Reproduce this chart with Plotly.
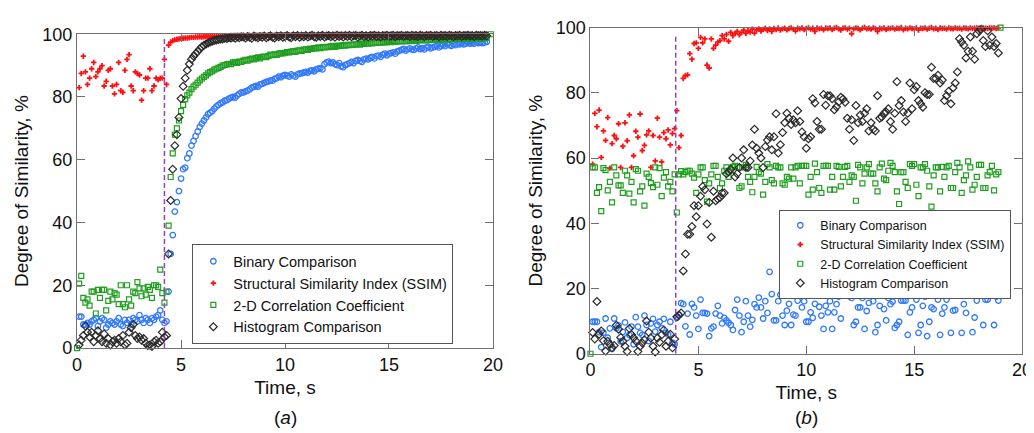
import plotly.graph_objects as go

# ---- panel (a): time base, 0.1 s frames ----
time_a = [round(0.1 * i, 1) for i in range(198)] + [19.9]
change_a = 4.2

binary_a = [None] + [
    10, 10, 7.5, 7.5, 8, 7.5, 8.5, 9, 9.5, 7,
    8.5, 9.5, 9, 6.5, 7.5, 8.5, 8, 7.5, 8.5, 9.5,
    7.5, 7, 9, 8, 9, 7.5, 9.5, 9, 8.5, 10.5,
    9, 8, 9.5, 9, 8, 9.5, 9, 10, 10.5, 12,
    9, 8,
    8.5, 18, 30, 36, 43.5, 46.5, 50,
    54, 57, 57.5, 60.5, 62, 64.5, 66, 67.5, 69, 70.5,
    71.5, 72.5, 73.5, 74.5, 75, 75.5, 76.3, 77, 77.5, 78,
    78.3, 78.8, 79, 79.5, 79.8, 80, 79.8, 80.5, 81, 81.5,
    81.5, 81.8, 82, 82.4, 83, 83.2, 83.5, 83.3, 84, 84.2,
    84.5, 84.8, 85, 85.3, 85.2, 85.8, 86, 86.5, 86.3, 86.8,
    87, 86.8, 86.5, 87.2, 86.8, 86.5, 87.2, 87.5, 87.5, 87.8,
    88, 87.8, 88.3, 88.5, 88.2, 88.8, 89, 89.2, 88.8, 90.5,
    91, 91.3, 90.8, 91, 90.5, 90.2, 90.8, 89.8, 89.5, 90.2,
    90.5, 90.8, 91.2, 90.8, 91.5, 91.8, 91.5, 91.2, 92, 92.2,
    92, 92.5, 92.8, 92.3, 93, 93.2, 92.8, 93.5, 93.8, 93.3,
    93.8, 94, 94.2, 93.8, 94.5, 94.8, 95, 95.3, 94.8, 95.2,
    95.5, 95.2, 95, 95.5, 95.8, 95.3, 95.6, 95.2, 95.8, 96,
    95.5, 95.8, 96, 96.3, 95.8, 96.2, 96.5, 96.2, 96.8, 96.5,
    96.3, 96.8, 96.5, 97, 96.8, 97.2, 96.8, 97, 97.3, 97,
    97.2, 97, 97.4, 97.2, 97.5, 97.2, 97.4, 97.6,
] + [None]

ssim_a = [None] + [
    83, 87.5, 93, 88, 84, 86, 89, 91, 86.5, 88,
    89, 90, 83.5, 85, 88.5, 89, 83.5, 81, 84, 91,
    82, 81.5, 88.5, 92, 93.5, 83.5, 82, 88, 87.5, 87,
    79, 82, 86, 86, 89, 82, 83.5, 86, 85.5, 86,
    86, 92,
    84, 96.5, 97.5, 97.9, 98.2, 98.4, 98.5,
    98.6, 98.7, 98.8, 98.8, 98.9, 99, 99, 99.1, 99.1, 99.2,
    99.1, 99.2, 99.3, 99.2, 99.3, 99.4, 99.3, 99.4, 99.4, 99.5,
    99.4, 99.5, 99.5, 99.4, 99.6, 99.5, 99.6, 99.5, 99.6, 99.6,
    99.6, 99.5, 99.7, 99.6, 99.5, 99.7, 99.6, 99.7, 99.6, 99.7,
    99.7, 99.6, 99.7, 99.8, 99.6, 99.7, 99.8, 99.7, 99.6, 99.8,
    99.7, 99.8, 99.7, 99.8, 99.7, 99.8, 99.8, 99.7, 99.8, 99.8,
    99.8, 99.7, 99.8, 99.8, 99.9, 99.8, 99.7, 99.8, 99.9, 99.8,
    99.8, 99.9, 99.8, 99.8, 99.9, 99.8, 99.9, 99.8, 99.9, 99.8,
    99.9, 99.8, 99.9, 99.8, 99.9, 99.9, 99.8, 99.9, 99.8, 99.9,
    99.8, 99.9, 99.9, 99.8, 99.9, 99.9, 99.8, 99.9, 99.9, 99.8,
    99.9, 99.9, 99.8, 99.9, 99.9, 99.9, 99.8, 99.9, 99.9, 99.9,
    99.9, 99.8, 99.9, 99.9, 99.9, 99.9, 99.8, 99.9, 99.9, 99.9,
    99.9, 99.9, 99.9, 99.8, 99.9, 99.9, 99.9, 99.9, 99.9, 99.8,
    99.9, 99.9, 99.9, 99.9, 99.8, 99.9, 99.9, 99.9, 99.9, 99.9,
    99.9, 99.9, 99.9, 99.9, 99.9, 99.9, 99.9, 99.9,
] + [None]

corr_a = [0] + [
    20.5, 23, 16, 14.5, 15.5, 13.5, 18, 18, 11, 18.5,
    16, 18.5, 18.5, 12, 15, 18, 15.5, 17.5, 17, 14,
    20, 14, 13, 20, 15.5, 13.5, 18, 17.5, 21, 19,
    16.5, 19, 17, 19.5, 18.5, 16, 20, 20, 19.5, 25,
    17.5, 14.5,
    18, 39, 54.5, 62, 68, 70, 72.5,
    75.5, 77.5, 79.3, 80.5, 81.4, 82.5, 83.3, 83.9, 84.6, 85.3,
    85.9, 86.4, 86.9, 87.5, 87.9, 88.2, 88.7, 89, 89.3, 89.6,
    90, 90.2, 90.4, 90.6, 90.5, 91, 91.1, 90.9, 91.3, 91.2,
    91.6, 91.8, 91.6, 92, 92.2, 92, 92.4, 92.6, 92.3, 92.8,
    92.9, 92.7, 93.1, 93.5, 93.3, 93.6, 93.4, 93.8, 94, 93.9,
    94.1, 94.3, 94.2, 94.5, 94.6, 94.4, 94.8, 94.9, 94.7, 95.1,
    95.2, 95, 95.4, 95.3, 95.6, 95.5, 95.8, 95.6, 95.9, 95.8,
    96, 95.9, 96.1, 96.3, 96, 96.2, 96.4, 96.3, 96.5, 96.4,
    96.6, 96.5, 96.7, 96.6, 96.8, 96.9, 96.7, 97, 96.9, 97.1,
    97, 97.2, 97.1, 97.3, 97.2, 97.4, 97.3, 97.5, 97.4, 97.5,
    97.6, 97.5, 97.7, 97.6, 97.8, 97.7, 97.8, 97.9, 97.7, 97.9,
    98, 97.8, 98, 97.9, 98.1, 98, 98.2, 98.1, 98, 98.2,
    98.3, 98.1, 98.3, 98.2, 98.4, 98.3, 98.2, 98.4, 98.5, 98.3,
    98.5, 98.4, 98.6, 98.5, 98.4, 98.6, 98.7, 98.5, 98.6, 98.7,
    98.6, 98.7, 98.8, 98.6, 98.7, 98.8, 98.7, 98.9,
] + [100]

hist_a = [None] + [
    1, 2.5, 4, 7, 5, 3.5, 5, 2, 4, 5.5,
    3, 2, 4.5, 1.5, 3, 1, 2, 2.5, 1.5, 3,
    2, 4, 1, 1.5, 5, 6.5, 7.5, 4, 3, 3.5,
    2.5, 3, 1.5, 0.8, 1, 0.5, 2, 2.5, 1.5, 2,
    5, 3.5,
    4, 30, 47, 57, 64.5, 68, 73.5,
    79.5, 83.4, 86, 88.5, 90.5, 92, 93, 93.8, 94.5, 95.3,
    96, 96.5, 96.9, 97.2, 97.5, 97.8, 98, 98.2, 98.3, 98.5,
    98.5, 98.7, 98.6, 98.9, 98.8, 99, 98.7, 99.1, 98.9, 99.2,
    99.1, 98.8, 99.3, 99, 98.7, 99.4, 99.1, 98.9, 99.3, 99,
    99.4, 98.9, 99.2, 99.5, 99, 98.8, 99.4, 99.2, 99.5, 99,
    99.3, 99.6, 99.1, 98.9, 99.5, 99.2, 99.6, 99, 99.4, 99.2,
    99.6, 99.1, 99.4, 99.7, 99.2, 99, 99.5, 99.3, 99.7, 99.1,
    99.4, 99.6, 99.2, 99.5, 99, 99.7, 99.3, 99.5, 99.1, 99.6,
    99.3, 99.7, 99.2, 99.5, 99.6, 99.1, 99.4, 99.7, 99.3, 99.5,
    99.2, 99.6, 99.4, 99.7, 99.3, 99.5, 99.1, 99.6, 99.4, 99.7,
    99.3, 99.5, 99.7, 99.2, 99.6, 99.4, 99.7, 99.3, 99.5, 99.6,
    99.2, 99.7, 99.4, 99.6, 99.3, 99.7, 99.5, 99.2, 99.6, 99.4,
    99.7, 99.3, 99.5, 99.6, 99.2, 99.7, 99.4, 99.6, 99.3, 99.7,
    99.5, 99.2, 99.6, 99.4, 99.7, 99.3, 99.6, 99.5, 99.7, 99.4,
    99.6, 99.3, 99.7, 99.5, 99.6, 99.4, 99.7, 99.5,
] + [None]

# ---- panel (b) ----
time_b = [round(0.1 * i, 1) for i in range(190)] + [19.0]
change_b = 3.95

binary_b = [None] + [
    9.8, 9.8, 9.8, 6.6, 2, 6.4, 10.8, 4.9, 7.8, 1.5,
    10.8, 7.8, 8.7, 3.8, 6.7, 9.6, 4.9, 5.8, 8.3, 2.9,
    11.2, 8.3, 6.4, 5.8, 11.7, 8.8, 3.9, 9.3, 10.7, 6.8,
    8.8, 9.8, 7.8, 10.7, 6.4, 5.9, 9.8, 3.4, 2.9,
    11, 12, 15.5, 15.2, 8.4, 12.3, 5.9, 15.3, 14.2, 11.7,
    7.6, 16.6, 12.5, 12.5, 12.3, 5.4, 7.8, 8.3, 12.3, 14.7,
    11.7, 9.3, 11, 10.2, 9.5, 8.8, 7.3, 13.4, 16.6, 11.7,
    6.6, 9.8, 16.1, 11.7, 8.3, 10.4, 15.2, 14.2, 17.2, 14.2,
    10.8, 16.1, 12.5, 25.1, 18.3, 10.2, 10.2, 16.1, 18.1, 11.7,
    8.8, 13.2, 15.3, 8.8, 12, 11.7, 16.3, 19.1, 14.2, 16.1,
    9.8, 9.8, 12.7, 11, 15.3, 18.1, 14.4, 11.7, 7.6, 14.7,
    12.7, 16.1, 7.6, 12.7, 15.2, 17.5, 10.8, 18.1, 18.6, 18.9,
    17.6, 17.1, 8.8, 9.8, 14.2, 14.2, 17.1, 7.6, 13.1, 15.6,
    19.8, 16.1, 6.6, 8.8, 14.7, 18.3, 13.7, 10.2, 17.1, 15.2,
    16, 7.9, 8.8, 9.8, 16.3, 16.3, 16.3, 5.8, 12.7, 14.2,
    18.6, 16.6, 6.4, 8.8, 14.7, 17.5, 5.4, 9.8, 14.2, 13.7,
    20.1, 16.6, 5.8, 12.3, 14.2, 16.6, 19.8, 6.4, 13.2, 13.4,
    22.5, 20.9, 6.4, 15.2, 12.5, 19.3, 21.5, 6.6, 11.1, 16.3,
    21.5, 21.8, 8.8, 16.6, 16.6, 23.2, 18, 8.8, 17.5, 16.3,
] + [None]

ssim_b = [None] + [
    58.1, 73.7, 69.6, 74.7, 60.2, 68.3, 65.4, 72.4, 56.9, 64.4,
    66.9, 65.9, 70.5, 57.1, 63.6, 70.8, 65.3, 73.2, 57.1, 60.7,
    68.2, 66.4, 73.5, 62.3, 63.9, 67.1, 68.3, 57.1, 66.9, 59.1,
    72.2, 66.4, 58.8, 67.8, 65.9, 68.6, 64, 67.5, 69,
    74.5, 63.2, 66.9, 84.4, 85.3, 85.5, 92, 90.3, 95.1, 95.3,
    93.6, 97, 95.3, 96.5, 88.5, 87.6, 96.5, 93.6, 94.6, 95.5,
    96, 97.5, 96.5, 97.9, 95.8, 98.5, 97.5, 98.2, 98.8, 97.8,
    98.5, 99.2, 98.2, 99, 98.6, 99.5, 98.3, 99.3, 99.6, 98.9,
    99.4, 99.8, 99.1, 99.6, 98.8, 99.7, 99.4, 99.9, 99.2, 99.6,
    99.8, 99.3, 99.7, 99.9, 99.5, 98.9, 99.8, 99.6, 99.9, 99.4,
    99.7, 99.9, 99.5, 99.8, 98.8, 99.9, 99.6, 99.8, 99.3, 99.9,
    99.7, 99.9, 99.4, 99.8, 100, 99.6, 99.2, 99.8, 99.9, 99.5,
    99.8, 98.1, 99.6, 99.9, 99.7, 99.3, 99.8, 100, 99.6, 99.8,
    99.5, 99.9, 99.7, 98.8, 99.8, 99.6, 99.9, 99.4, 99.8, 99.7,
    99.9, 99.5, 99.8, 99.7, 100, 99.3, 99.8, 99.6, 99.9, 99.7,
    99.6, 99.9, 99.2, 99.8, 99.7, 99.9, 99.5, 99.8, 100, 99.6,
    99.8, 99.4, 99.9, 99.7, 99.8, 99.5, 99.9, 99.7, 99.6, 99.9,
    99.7, 99.8, 99.5, 99.9, 99.8, 99.6, 99.9, 99.7, 99.8, 99.9,
    99.8, 99.6, 99.9, 99.8, 99.7, 99.9, 99.8, 99.9, 99.7, 99.9,
] + [None]

corr_b = [0] + [
    57.1, 57.1, 49.3, 51.1, 43.7, 56.9, 56.3, 50.1, 52.7, 46.4,
    57.1, 54.7, 51.6, 51.6, 49.3, 56.1, 54.7, 49.1, 52.7, 46.4,
    56.6, 56.1, 49.8, 51.3, 45.4, 55.2, 54.2, 52.3, 51.1, 57.1,
    51.8, 56.9, 48.3, 54, 55.7, 51.3, 52.7, 49.8, 55,
    43.3, 55, 56, 55, 55.7, 56.1, 56.1, 55.2, 54, 49.3,
    55, 57.1, 57.1, 53.2, 46.6, 52.2, 55, 57.6, 57.6, 54.2,
    50.8, 52.2, 56.1, 57.1, 54.2, 56.3, 57.3, 57.6, 57.1, 50.8,
    51.3, 57.1, 57.9, 54.2, 52.7, 49.5, 54.2, 57.3, 55.7, 55.2,
    48.8, 52.7, 58.1, 57.1, 53.2, 52.2, 57.6, 57.1, 57.1, 52.2,
    51.8, 54.2, 53.7, 57.1, 53.7, 57.1, 57.6, 52.2, 57.6, 57.6,
    57.6, 48.8, 54.2, 50.3, 58.3, 55.7, 50.8, 49.3, 57.6, 57.6,
    57.6, 50.3, 54.2, 50.3, 57.6, 57.3, 51.3, 54.2, 57.3, 57.6,
    52.7, 54.7, 54.2, 46.9, 57.9, 57.1, 52.2, 55.2, 57.1, 58.1,
    55.2, 55.2, 52.2, 49.8, 57.1, 58.3, 53.7, 53.2, 56.1, 58.5,
    57.6, 55.7, 49.8, 45.9, 55.7, 55.7, 52.7, 50.8, 58.1, 57.6,
    58.1, 51.8, 48.3, 57.1, 57.1, 58.1, 56.1, 51.3, 45.1, 54.7,
    57.1, 57.1, 49.8, 57.3, 54.2, 57.1, 57.6, 50.8, 50.8, 55.7,
    58.5, 57.1, 49.3, 53.2, 54.7, 59, 57.1, 50.3, 51.8, 54.2,
    57.9, 57.9, 50.8, 50.8, 54.7, 55.7, 57.6, 50.1, 55, 55.7,
] + [100]

hist_b = [None] + [
    6.5, 4.5, 16, 6, 7, 4, 0.8, 3.8, 2.8, 1.8,
    2.5, 8.7, 7.5, 5, 3.8, 2.3, 0.7, 7.7, 5.9, 4.9,
    3.9, 0.7, 2.3, 3.3, 4.3, 10, 6.6, 4.8, 2.3, 0.5,
    4.8, 3.5, 5.8, 7.3, 2.3, 3.8, 6, 1.8, 4.5,
    11.3, 11.8, 12.5, 25.4, 30.6, 36.6, 36.6, 39, 45.4, 42,
    45.4, 48.3, 51.3, 50.3, 39.8, 46.4, 35.7, 49.8, 46.9, 47.4,
    47.9, 49.3, 49.3, 55.2, 55.7, 56.6, 60, 54.2, 55.2, 57.1,
    60, 62.5, 57.1, 57.1, 59.1, 64, 68.8, 63, 61.5, 60,
    57.1, 63.5, 65.5, 66.5, 62.5, 66.5, 73.6, 61.5, 64.1, 67.8,
    70.8, 73.7, 72.2, 70.3, 71.7, 70.8, 74.5, 71.2, 68, 66.5,
    63, 65.9, 66.5, 78.2, 76.9, 71.2, 68.8, 68.8, 79.5, 76.2,
    79.1, 79.1, 78.2, 74.8, 75.7, 77.2, 78.6, 78.1, 77.1, 72.2,
    68.8, 71.7, 65.4, 76.1, 70.8, 73.2, 71.2, 73.7, 75.1, 68.3,
    70.8, 68.8, 68.3, 79.1, 72.2, 72.6, 73.7, 74.1, 75.1, 71.2,
    68.8, 73.7, 83.4, 76.1, 77.6, 74.1, 71.2, 73.7, 83, 75.1,
    80.9, 81.9, 77.6, 76.6, 75.6, 80, 79.5, 79.5, 87.8, 84.4,
    84.4, 85.4, 83, 83.9, 77.6, 79.1, 80.5, 76.6, 81.5, 83,
    86.4, 96.6, 95.6, 94.6, 90.7, 92.7, 97.1, 92.7, 90.3, 98.1,
    99, 99.5, 96, 94.2, 99, 94.6, 97.1, 94.2, 95.1, 92.2,
] + [None]

for s in (binary_a, ssim_a, corr_a, hist_a):
    assert len(s) == len(time_a), len(s)
for s in (binary_b, ssim_b, corr_b, hist_b):
    assert len(s) == len(time_b), len(s)

names = ["Binary Comparison", "Structural Similarity Index (SSIM)",
         "2-D Correlation Coefficient", "Histogram Comparison"]

FONT = "Liberation Sans, Arial, sans-serif"
styles = [
    dict(symbol="circle-open", size=5.5, color="#2f78ff", line=dict(width=1.3, color="#2f78ff")),
    dict(symbol="cross", size=4.5, color="#ff1010", line=dict(width=0)),
    dict(symbol="square-open", size=5, color="#1f9e1f", line=dict(width=1.2, color="#1f9e1f")),
    dict(symbol="diamond-open", size=6, color="#2a2a2a", line=dict(width=1.2, color="#2a2a2a")),
]

fig = go.Figure()

for ys, nm, st in zip((binary_a, ssim_a, corr_a, hist_a), names, styles):
    fig.add_trace(go.Scatter(x=time_a, y=ys, mode="markers", name=nm, marker=st,
                             xaxis="x", yaxis="y", legend="legend", cliponaxis=False))
for ys, nm, st in zip((binary_b, ssim_b, corr_b, hist_b), names, styles):
    fig.add_trace(go.Scatter(x=time_b, y=ys, mode="markers", name=nm, marker=st,
                             xaxis="x2", yaxis="y2", legend="legend2", cliponaxis=False))

# transition markers
fig.add_shape(type="line", xref="x", yref="y", x0=change_a, x1=change_a, y0=0, y1=99,
              line=dict(color="#9440c0", width=1.5, dash="5px,3px"))
fig.add_shape(type="line", xref="x2", yref="y2", x0=change_b, x1=change_b, y0=0, y1=98,
              line=dict(color="#9440c0", width=1.5, dash="5px,3px"))

axis_common = dict(range=[0, 20], tickvals=[0, 5, 10, 15, 20], showgrid=False, zeroline=False,
                   showline=True, linecolor="#707070", linewidth=1.3, mirror="ticks",
                   ticks="inside", ticklen=8, tickcolor="#707070", tickwidth=1.2,
                   tickfont=dict(size=18, color="#111", family=FONT))
yaxis_common = dict(range=[0, 100], tickvals=[0, 20, 40, 60, 80, 100], showgrid=False,
                    zeroline=False, showline=True, linecolor="#707070", linewidth=1.3,
                    mirror="ticks", ticks="inside", ticklen=8, tickcolor="#707070",
                    tickwidth=1.2, tickfont=dict(size=18, color="#111", family=FONT))

legend_common = dict(xanchor="left", yanchor="top", bgcolor="white", bordercolor="#555",
                     borderwidth=1, tracegroupgap=0, itemwidth=30)

fig.update_layout(
    width=1034, height=433,
    margin=dict(l=0, r=0, t=0, b=0),
    paper_bgcolor="white", plot_bgcolor="white",
    font=dict(family=FONT, color="#111"),
    xaxis=dict(axis_common, domain=[0.0629, 0.4710], anchor="y",
               title=dict(text="Time, s", font=dict(size=19), standoff=6)),
    yaxis=dict(yaxis_common, domain=[0.2009, 0.9607], anchor="x",
               title=dict(text="Degree of Similarity, %", font=dict(size=19), standoff=8)),
    xaxis2=dict(axis_common, domain=[0.5667, 0.9903], anchor="y2",
                title=dict(text="Time, s", font=dict(size=19), standoff=6)),
    yaxis2=dict(yaxis_common, domain=[0.1871, 0.9769], anchor="x2",
                title=dict(text="Degree of Similarity, %", font=dict(size=19), standoff=8)),
    legend=dict(legend_common, x=0.176, y=0.452, font=dict(size=14.5, family=FONT, color="#111")),
    legend2=dict(legend_common, x=0.752, y=0.536, font=dict(size=12.5, family=FONT, color="#111")),
    annotations=[
        dict(text="(<i>a</i>)", xref="paper", yref="paper", x=0.267, y=0.032,
             xanchor="center", yanchor="middle", showarrow=False, font=dict(size=19, family=FONT)),
        dict(text="(<i>b</i>)", xref="paper", yref="paper", x=0.7785, y=0.032,
             xanchor="center", yanchor="middle", showarrow=False, font=dict(size=19, family=FONT)),
    ],
)

fig.write_html("out.html")
